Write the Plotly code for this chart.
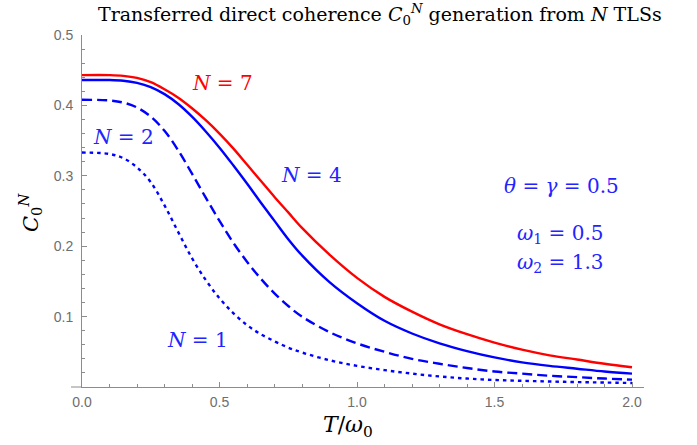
import plotly.graph_objects as go

# ---- data ----
x_vals = [0, 0.1, 0.15, 0.2, 0.25, 0.3, 0.35, 0.4, 0.45, 0.5, 0.55, 0.6, 0.65, 0.7, 0.75, 0.8, 0.9, 1.0, 1.1, 1.2, 1.3, 1.4, 1.5, 1.6, 1.7, 1.8, 1.9, 2.0]
y_n7 = [0.443, 0.443, 0.442, 0.439, 0.433, 0.423, 0.411, 0.396, 0.379, 0.360, 0.339, 0.316, 0.293, 0.270, 0.248, 0.226, 0.188, 0.155, 0.128, 0.107, 0.089, 0.075, 0.063, 0.053, 0.045, 0.039, 0.033, 0.028]
y_n4 = [0.436, 0.436, 0.435, 0.432, 0.426, 0.416, 0.402, 0.384, 0.363, 0.340, 0.315, 0.289, 0.262, 0.236, 0.210, 0.187, 0.149, 0.119, 0.094, 0.076, 0.062, 0.051, 0.042, 0.035, 0.030, 0.026, 0.022, 0.019]
y_n2 = [0.408, 0.407, 0.404, 0.397, 0.384, 0.364, 0.336, 0.303, 0.269, 0.236, 0.205, 0.178, 0.154, 0.133, 0.115, 0.100, 0.078, 0.062, 0.050, 0.040, 0.033, 0.027, 0.022, 0.019, 0.016, 0.014, 0.012, 0.0105]
y_n1 = [0.333, 0.331, 0.325, 0.312, 0.291, 0.258, 0.220, 0.183, 0.152, 0.126, 0.105, 0.088, 0.075, 0.065, 0.056, 0.049, 0.038, 0.030, 0.024, 0.019, 0.015, 0.012, 0.010, 0.0088, 0.0078, 0.0070, 0.0063, 0.0057]

x_tickvals = [0.0, 0.5, 1.0, 1.5, 2.0]
x_ticktext = ["0.0", "0.5", "1.0", "1.5", "2.0"]
y_tickvals = [0.1, 0.2, 0.3, 0.4, 0.5]
y_ticktext = ["0.1", "0.2", "0.3", "0.4", "0.5"]
x_minor = [i / 10 for i in range(0, 21) if i % 5 != 0]
y_minor = [i / 50 for i in range(1, 26) if i % 5 != 0]

RED = "rgb(255,0,0)"
BLUE = "rgb(0,0,255)"
TXTBLUE = "rgb(35,35,255)"
SERIF = "DejaVu Serif"

fig = go.Figure()
lw = 2.4
sm = 1.0
fig.add_trace(go.Scatter(x=x_vals, y=y_n1, mode="lines", line=dict(color=BLUE, width=lw, dash="3.5px,4px", shape="spline", smoothing=sm)))
fig.add_trace(go.Scatter(x=x_vals, y=y_n2, mode="lines", line=dict(color=BLUE, width=lw, dash="10px,5px", shape="spline", smoothing=sm)))
fig.add_trace(go.Scatter(x=x_vals, y=y_n4, mode="lines", line=dict(color=BLUE, width=lw, shape="spline", smoothing=sm)))
fig.add_trace(go.Scatter(x=x_vals, y=y_n7, mode="lines", line=dict(color=RED, width=lw, shape="spline", smoothing=sm)))

AX = "rgb(140,140,140)"
LAB = dict(family="Liberation Sans", size=14, color="rgb(110,110,110)")

W, H = 697, 445
L = 82
T = 35
R = W - 644
B = H - 387
pw, ph = W - L - R, H - T - B

fig.update_layout(
    width=W, height=H,
    margin=dict(l=L, r=R, t=T, b=B, pad=0),
    paper_bgcolor="white", plot_bgcolor="white",
    showlegend=False,
    xaxis=dict(range=[0, 2.0 * (644 - 82) / (632 - 82)], showgrid=False, zeroline=False,
               showline=True, linecolor=AX, linewidth=1,
               ticks="inside", ticklen=5, tickcolor=AX, tickwidth=1,
               tickmode="array", tickvals=x_tickvals, ticktext=x_ticktext,
               tickfont=LAB, ticklabelstandoff=2,
               minor=dict(tickmode="array", tickvals=x_minor, ticks="inside", ticklen=3, tickcolor=AX, showgrid=False)),
    yaxis=dict(range=[0, 0.5], showgrid=False, zeroline=False,
               showline=True, linecolor=AX, linewidth=1,
               ticks="inside", ticklen=5, tickcolor=AX, tickwidth=1,
               tickmode="array", tickvals=y_tickvals, ticktext=y_ticktext,
               tickfont=LAB, ticklabelstandoff=5,
               minor=dict(tickmode="array", tickvals=y_minor, ticks="inside", ticklen=3, tickcolor=AX, showgrid=False)),
)

# x axis extension left of origin (Mathematica style axes)
fig.add_shape(type="line", xref="paper", yref="paper", x0=-11 / pw, x1=0, y0=0, y1=0,
              line=dict(color=AX, width=1))

def px2paper(px, py):
    return (px - L) / pw, (H - B - py) / ph

# title
tx, ty = px2paper(380, 15)
fig.add_annotation(xref="paper", yref="paper", x=tx, y=ty, showarrow=False,
                   text="Transferred direct coherence <i>C</i><sub>0</sub><sup><i>N</i></sup> generation from <i>N</i> TLSs",
                   font=dict(family=SERIF, size=19, color="black"), xanchor="center", yanchor="middle")
# axis titles
ax_, ay_ = px2paper(348, 427)
fig.add_annotation(xref="paper", yref="paper", x=ax_, y=ay_, showarrow=False,
                   text="<i>T</i>/<i>ω</i><sub>0</sub>", font=dict(family=SERIF, size=22, color="black"),
                   xanchor="center", yanchor="middle")
bx_, by_ = px2paper(30, 213)
fig.add_annotation(xref="paper", yref="paper", x=bx_, y=by_, showarrow=False, textangle=-90,
                   text="<i>C</i><sub>0</sub><sup><i>N</i></sup>", font=dict(family=SERIF, size=21, color="black"),
                   xanchor="center", yanchor="middle")

# in-plot labels
labels = [
    ("<i>N</i> = 7", 222, 83, RED),
    ("<i>N</i> = 4", 311, 175, TXTBLUE),
    ("<i>N</i> = 2", 123, 137, TXTBLUE),
    ("<i>N</i> = 1", 197, 340, TXTBLUE),
    ("<i>θ</i> = <i>γ</i> = 0.5", 561, 186, TXTBLUE),
    ("<i>ω</i><sub>1</sub> = 0.5", 560, 234, TXTBLUE),
    ("<i>ω</i><sub>2</sub> = 1.3", 560, 263, TXTBLUE),
]
for txt, px, py, col in labels:
    lx, ly = px2paper(px, py)
    fig.add_annotation(xref="paper", yref="paper", x=lx, y=ly, showarrow=False, text=txt,
                       font=dict(family=SERIF, size=20, color=col), xanchor="center", yanchor="middle")

# remove the default page margin so the figure starts at the window corner
fig.write_html("out.html", config={"displayModeBar": False},
               post_script="document.body.style.margin='0';")
